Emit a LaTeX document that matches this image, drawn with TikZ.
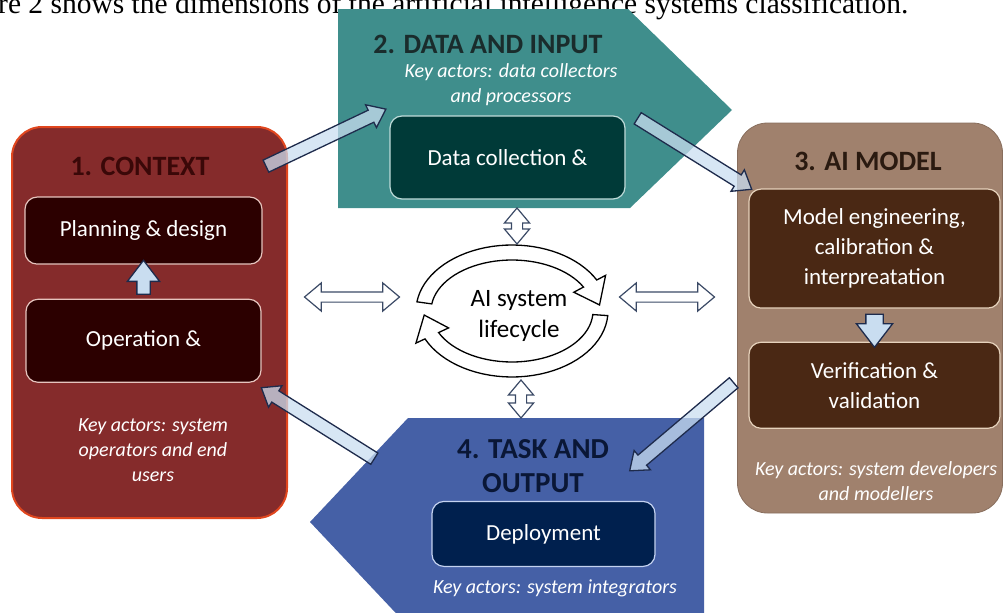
\documentclass[tikz,border=0pt]{standalone}
\usepackage{fontspec}
\setmainfont{Carlito}
\newfontfamily\pagefont{Liberation Serif}
\usetikzlibrary{positioning, calc, shapes.arrows}

\definecolor{ctxfill}{HTML}{852B2B}
\definecolor{ctxedge}{HTML}{E0461E}
\definecolor{ctxdark}{HTML}{2C0000}
\definecolor{ctxpale}{HTML}{E6C4BE}
\definecolor{ctxtitle}{HTML}{3A0808}
\definecolor{datafill}{HTML}{3F8E8C}
\definecolor{datadark}{HTML}{003A38}
\definecolor{datapale}{HTML}{BFDCDA}
\definecolor{datatitle}{HTML}{1A2C2C}
\definecolor{modelfill}{HTML}{A0816D}
\definecolor{modeldark}{HTML}{4A2814}
\definecolor{modelpale}{HTML}{E6D2BC}
\definecolor{modeltitle}{HTML}{2A1A10}
\definecolor{taskfill}{HTML}{4560A6}
\definecolor{taskdark}{HTML}{00204E}
\definecolor{taskpale}{HTML}{C4D2F0}
\definecolor{tasktitle}{HTML}{0A1736}
\definecolor{flowfill}{HTML}{C9DDF0}
\definecolor{flowedge}{HTML}{1E2B4C}
\definecolor{linkedge}{HTML}{3B4A66}

% block arrow from #3 to #4, named #2
\newcommand{\blockarrow}[4][]{%
  \path let \p1 = ($(#4)-(#3)$), \n1 = {atan2(\y1,\x1)}, \n2 = {veclen(\x1,\y1)} in
    node[flow, #1, rotate=\n1, minimum height=\n2] (#2) at ($(#3)!0.5!(#4)$) {};}
% curved arrow of the lifecycle: tail angle, head angle, tip angle
\newcommand{\lifearrow}[3]{%
  \draw[band] plot[domain=#1:#2, samples=36] ({512+96*cos(\x)}, {311-66*sin(\x)})
    -- ({512+106*cos(#2)}, {311-76*sin(#2)})
    -- ({512+88*cos(#3)}, {311-58*sin(#3)})
    -- ({512+70*cos(#2)}, {311-40*sin(#2)})
    -- plot[domain=#2:#1, samples=36] ({512+81*cos(\x)}, {311-51*sin(\x)})
    -- cycle;}

\begin{document}
\begin{tikzpicture}[
    x=1pt, y=-1pt,
    node distance=20pt,
    phase/.style = {rounded corners=30pt},
    heading/.style = {font=\bfseries\fontsize{28}{34}\selectfont, inner sep=0pt, align=center},
    stage/.style = {rounded corners=12pt, draw=#1, line width=1.2pt, text=white, align=center,
                    font=\fontsize{23}{30}\selectfont},
    actors/.style = {text=white, align=center, font=\itshape\fontsize{20}{25}\selectfont},
    flow/.style = {single arrow, draw=flowedge, fill=flowfill, fill opacity=0.75, line width=1.3pt,
                   inner xsep=0pt, inner ysep=6pt, single arrow head extend=6pt, single arrow tip angle=75},
    link/.style = {double arrow, draw=linkedge, fill=white, line width=1.2pt, inner xsep=0pt,
                   double arrow tip angle=80},
    band/.style = {draw=black, fill=white, line width=1.3pt}
  ]
  \useasboundingbox (0,0) rectangle (1004,613);

  % Page text
  \node[anchor=base west, inner sep=0pt, font=\pagefont\fontsize{29.5}{32}\selectfont] (caption) at (-2,13)
    {re 2 shows the dimensions of the artificial intelligence systems classification.};

  % Phases
  \node[phase, draw=ctxedge, line width=2pt, fill=ctxfill, minimum width=275pt, minimum height=391pt] (context) at (149.5,322.5) {};
  \node[phase, draw=modelfill!85!black, line width=0.8pt, fill=modelfill, minimum width=265pt, minimum height=390pt] (model) at (870,318) {};
  \fill[datafill] (338,9) -- (628,9) -- (732,110) -- (630,208) -- (338,208) -- cycle;
  \fill[taskfill] (408,418) -- (704,418) -- (704,626) -- (408,626) -- (310,522) -- cycle;

  % Titles
  \node[heading, text=ctxtitle] (ctx title) at (140,166) {1. CONTEXT};
  \node[heading, text=datatitle] (data title) at (488,44) {2. DATA AND INPUT};
  \node[heading, text=modeltitle] (model title) at (868,161) {3. AI MODEL};
  \node[heading, text=tasktitle, font=\bfseries\fontsize{29}{34}\selectfont] (task title) at (533,466) {4. TASK AND\\OUTPUT};

  % Stages
  \node[stage=ctxpale, fill=ctxdark, minimum width=237pt, minimum height=67pt, below=21pt of ctx title, xshift=3.5pt] (plan) {Planning \& design};
  \node[stage=ctxpale, fill=ctxdark, minimum width=235pt, minimum height=83pt, below=34pt of plan] (operation) {Operation \&};
  \node[stage=datapale, fill=datadark, minimum width=235pt, minimum height=83pt] (collect) at (507.5,157.5) {Data collection \&};
  \node[stage=modelpale, fill=modeldark, minimum width=251pt, minimum height=119pt, below=18pt of model title, xshift=6.5pt] (engineer) {Model engineering,\\calibration \&\\interpreatation};
  \node[stage=modelpale, fill=modeldark, minimum width=251pt, minimum height=86pt, below=33pt of engineer] (verify) {Verification \&\\validation};
  \node[stage=taskpale, fill=taskdark, minimum width=223pt, minimum height=65pt, below=8pt of task title, xshift=10.5pt] (deploy) {Deployment};

  % Key actors
  \node[actors] (ctx actors) at (153,450) {Key actors: system\\operators and end\\users};
  \node[actors] (data actors) at (511,85) {Key actors: data collectors\\and processors};
  \node[actors] (model actors) at (876,481) {Key actors: system developers\\and modellers};
  \node[actors] (task actors) at (555,588) {Key actors: system integrators};

  % Lifecycle
  \lifearrow{172}{28}{6}
  \lifearrow{-4}{-155}{-176}
  \node[font=\fontsize{25}{31}\selectfont, align=center] (cycle) at (519,316) {AI system\\lifecycle};

  % Links to the lifecycle
  \node[link, minimum height=95pt, inner ysep=4.5pt, double arrow head extend=9pt] (ctx link) at (352,297) {};
  \node[link, minimum height=95pt, inner ysep=4.5pt, double arrow head extend=9pt] (model link) at (667,297) {};
  \node[link, minimum height=36pt, inner ysep=5pt, double arrow head extend=7pt, rotate=90] (data link) at (517,226) {};
  \node[link, minimum height=38pt, inner ysep=5pt, double arrow head extend=7pt, rotate=90] (task link) at (521,399) {};

  % Flows between phases
  \coordinate (c2d a) at (262,168);
  \coordinate (c2d b) at (382,111);
  \coordinate (d2m a) at (634,116);
  \coordinate (d2m b) at (748,187);
  \coordinate (m2t a) at (737,380);
  \coordinate (m2t b) at (633,468);
  \coordinate (t2c a) at (378,461);
  \coordinate (t2c b) at (265,390);
  \blockarrow{ctx to data}{c2d a}{c2d b}
  \blockarrow{data to model}{d2m a}{d2m b}
  \blockarrow{model to task}{m2t a}{m2t b}
  \blockarrow{task to ctx}{t2c a}{t2c b}
  \blockarrow[inner ysep=6pt, single arrow head extend=9.5pt, fill opacity=1]{op to plan}{operation.north}{plan.south}
  \blockarrow[inner ysep=8pt, single arrow head extend=9.5pt, fill opacity=1]{eng to verify}{engineer.south}{verify.north}
\end{tikzpicture}
\end{document}
